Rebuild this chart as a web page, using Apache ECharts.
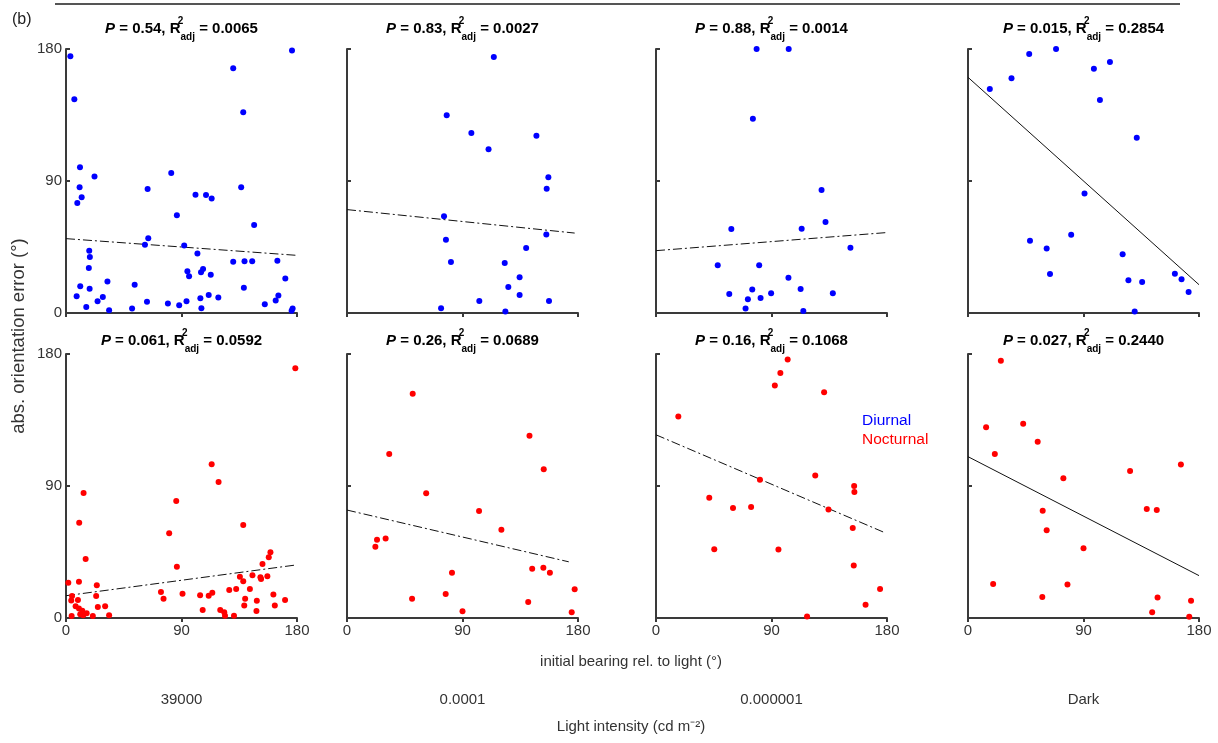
<!DOCTYPE html>
<html>
<head>
<meta charset="utf-8">
<script src="https://cdn.jsdelivr.net/npm/echarts@6/dist/echarts.min.js"></script>
<style>html,body{margin:0;padding:0;background:#fff;}#c{width:1218px;height:743px;}</style>
</head>
<body>
<div id="c"></div>
<script>
// ---------- DATA ----------
const categories = ['39000', '0.0001', '0.000001', 'Dark'];
const tickValues = [0, 90, 180];
const pValues = ['0.54', '0.83', '0.88', '0.015', '0.061', '0.26', '0.16', '0.027'];
const r2Values = ['0.0065', '0.0027', '0.0014', '0.2854', '0.0592', '0.0689', '0.1068', '0.2440'];

// Diurnal (top row) [initial bearing, abs. orientation error]
const diurnal39000 = [[3.4,175],[6.5,145.7],[10.9,99.3],[10.6,85.7],[8.8,75],[12.2,78.9],[22.2,93],[18.1,42.5],[18.6,38.2],[17.8,30.7],[11.1,18.2],[8.3,11.4],[18.4,16.6],[15.8,4.1],[24.6,8],[28.7,10.9],[32.3,21.4],[33.6,1.8],[51.5,3],[53.5,19.3],[63.1,7.7],[61.5,46.6],[64.1,50.9],[63.6,84.5],[82,95.5],[79.4,6.4],[86.4,66.6],[88.2,5.2],[92.1,46.1],[93.9,8],[94.6,28.4],[95.9,25],[102.4,40.5],[100.9,80.7],[105.2,27.7],[106.8,30],[104.7,10],[105.5,3.2],[109.1,80.5],[113.5,78],[111.2,12.3],[112.8,26.1],[118.7,10.5],[130.3,166.8],[136.5,85.7],[138.1,136.8],[130.3,35],[139.1,35.2],[145.1,35.2],[138.6,17.3],[146.6,60],[154.9,5.9],[163.4,8.6],[165.5,12],[164.7,35.7],[170.9,23.6],[176.1,178.9],[176.6,3],[175.8,1.6]];
const diurnal0001 = [[114.4,174.5],[77.7,134.8],[96.9,122.7],[147.6,120.9],[110.3,111.6],[156.9,92.5],[155.6,84.8],[75.6,65.9],[77.1,50],[155.3,53.6],[139.6,44.3],[81,34.8],[122.9,34.1],[134.5,24.3],[125.7,17.7],[134.5,12.3],[103.1,8.2],[157.4,8.2],[73.3,3.2],[123.4,1.1]];
const diurnal000001 = [[78.4,180],[103.4,180],[75.5,132.5],[129,83.9],[132.1,62],[58.7,57.3],[113.5,57.5],[151.5,44.5],[48.1,32.5],[80.4,32.5],[103.2,24.1],[75,16.1],[112.7,16.4],[57.1,13],[71.6,9.3],[81.5,10.2],[89.7,13.4],[137.8,13.4],[69.8,3],[114.8,1.4]];
const diurnalDark = [[17,152.7],[33.9,160],[47.7,176.6],[68.6,180],[98.1,166.6],[110.6,171.1],[102.8,145.2],[131.5,119.5],[90.8,81.4],[80.4,53.4],[48.3,49.3],[61.3,43.9],[63.9,26.6],[120.5,40],[125,22.3],[135.7,21.1],[161.2,26.8],[166.4,23],[171.9,14.3],[129.9,1.1]];

// Nocturnal (bottom row)
const nocturnal39000 = [[178.7,170.2],[113.5,104.8],[118.9,92.7],[85.9,79.8],[13.7,85.2],[10.3,65],[138.1,63.4],[80.4,57.7],[15.3,40.2],[86.4,35],[159.3,44.8],[158,41.4],[153.1,36.8],[145.3,29.1],[135.5,28.2],[138.1,25],[151.5,27.7],[152,26.6],[156.9,28.4],[1.8,24.1],[10.1,24.8],[24,22.3],[23.5,15],[4.7,15],[4.1,12],[9.3,12.3],[7.5,8],[10.1,6.4],[12.7,5],[16.1,3.2],[24.8,7.5],[30.5,8],[4.4,1.4],[11.1,2.5],[13.4,1.8],[20.9,1.4],[33.6,1.8],[74,17.7],[76,13.2],[90.8,16.6],[104.5,15.5],[106.5,5.5],[111.2,15.2],[114,17.3],[120.2,5.5],[123.3,3.9],[123.9,1.6],[127.2,19.1],[130.9,1.6],[132.6,19.8],[139.6,13.2],[138.9,8.6],[143.3,19.8],[148.7,11.8],[148.4,4.8],[161.6,16.1],[162.7,8.6],[170.7,12.3]];
const nocturnal0001 = [[51.2,152.9],[32.9,111.9],[142.2,124.2],[153.3,101.4],[61.7,85],[102.9,72.9],[120.3,60.1],[23.4,53.3],[30.1,54.2],[22.1,48.5],[144.3,33.5],[153,34.2],[158.1,30.8],[81.8,30.8],[50.7,13.2],[76.9,16.4],[90,4.6],[141.2,10.9],[177.4,19.6],[175.1,3.9]];
const nocturnal000001 = [[102.6,176.3],[96.9,167],[92.6,158.6],[131,154],[17.4,137.4],[124.1,97.1],[81,94.3],[154.4,90],[154.6,85.9],[41.5,82],[60,75],[74.1,75.6],[134.4,74],[153.3,61.3],[45.4,46.9],[95.4,46.7],[154.1,35.8],[174.6,19.8],[163.3,9.1],[117.7,1.1]];
const nocturnalDark = [[25.6,175.4],[14.1,130.1],[43,132.4],[54.3,120.1],[20.9,111.9],[165.9,104.6],[126.3,100.2],[74.3,95.2],[58.2,73.1],[139.3,74.3],[147.1,73.6],[61.3,59.9],[90,47.6],[19.6,23.2],[77.5,22.8],[57.9,14.4],[147.7,13.9],[173.8,11.8],[143.5,3.9],[172.4,0.9]];

// Regression lines (start / end points)
const fitDiurnal39000 = [[0,50.7],[180,39.3]];
const fitDiurnal0001 = [[0,70.5],[177.4,54.5]];
const fitDiurnal000001 = [[0,42.5],[179.2,54.8]];
const fitDiurnalDark = [[0,160.7],[180,19.3]];
const fitNocturnal39000 = [[0,15.2],[178.7,36.1]];
const fitNocturnal0001 = [[0,73.6],[172.8,38.3]];
const fitNocturnal000001 = [[0,124.9],[178.5,58.1]];
const fitNocturnalDark = [[0,110],[180,28.9]];

// ---------- LAYOUT ----------
const panels = [diurnal39000, diurnal0001, diurnal000001, diurnalDark, nocturnal39000, nocturnal0001, nocturnal000001, nocturnalDark];
const fits = [fitDiurnal39000, fitDiurnal0001, fitDiurnal000001, fitDiurnalDark, fitNocturnal39000, fitNocturnal0001, fitNocturnal000001, fitNocturnalDark];
const lefts = [66, 347, 656, 968];
const tops = [49, 354];
const W = 231, H = 264;
const solidFit = [false, false, false, true, false, false, false, true];

const grid = [], xAxis = [], yAxis = [], series = [], title = [];
const axisCol = '#3a3a3a';
const FONT = 'Liberation Sans, Arial, sans-serif';
for (let i = 0; i < 8; i++) {
  const row = Math.floor(i / 4), col = i % 4;
  grid.push({left: lefts[col], top: tops[row], width: W, height: H});
  xAxis.push({
    type: 'value', gridIndex: i, min: tickValues[0], max: tickValues[2], interval: tickValues[1],
    axisLine: {show: true, onZero: false, lineStyle: {color: axisCol, width: 2}},
    axisTick: {show: true, inside: false, length: 4, lineStyle: {color: axisCol, width: 2}},
    axisLabel: {show: row === 1, color: '#333', fontSize: 15, fontFamily: FONT, margin: 5},
    splitLine: {show: false}
  });
  yAxis.push({
    type: 'value', gridIndex: i, min: tickValues[0], max: tickValues[2], interval: tickValues[1],
    axisLine: {show: true, onZero: false, lineStyle: {color: axisCol, width: 2}},
    axisTick: {show: true, inside: true, length: 4, lineStyle: {color: axisCol, width: 2}},
    axisLabel: {show: col === 0, color: '#333', fontSize: 15, fontFamily: FONT, margin: 4},
    splitLine: {show: false}
  });
  series.push({
    type: 'scatter', xAxisIndex: i, yAxisIndex: i, data: panels[i],
    symbolSize: 6, itemStyle: {color: row === 0 ? '#0000FF' : '#FF0000', opacity: 1}, silent: true
  });
  series.push({
    type: 'line', xAxisIndex: i, yAxisIndex: i, data: fits[i], symbol: 'none',
    lineStyle: {color: '#111', width: 1, type: solidFit[i] ? 'solid' : [9, 3, 2, 3]}, silent: true, z: 1
  });
  const base = {fontWeight: 'bold', fontSize: 15, fontFamily: FONT, color: '#000', lineHeight: 26};
  title.push({
    text: `{i|P}{b| = ${pValues[i]}, R}{sup|2}{sub|adj}{b| = ${r2Values[i]}}`,
    left: lefts[col] + W / 2, top: row === 0 ? 16 : 328, textAlign: 'center', padding: 0,
    textStyle: {
      rich: {
        i: Object.assign({}, base, {fontStyle: 'italic'}),
        b: base,
        sup: Object.assign({}, base, {fontSize: 10, verticalAlign: 'top', width: 0}),
        sub: Object.assign({}, base, {fontSize: 10, verticalAlign: 'bottom'})
      }
    }
  });
}

const graphic = [
  {type: 'line', shape: {x1: 55, y1: 4, x2: 1180, y2: 4}, style: {stroke: '#555', lineWidth: 2}},
  {type: 'text', x: 12, y: 20, style: {text: '(b)', fontSize: 16, fontFamily: FONT, fill: '#222', verticalAlign: 'middle'}},
  {type: 'text', x: 19, y: 336, rotation: Math.PI / 2, style: {text: 'abs. orientation error (°)', fontSize: 18.5, fontFamily: FONT, fill: '#333', align: 'center', verticalAlign: 'middle'}},
  {type: 'text', x: 631, y: 662, style: {text: 'initial bearing rel. to light (°)', fontSize: 15, fontFamily: FONT, fill: '#333', align: 'center', verticalAlign: 'middle'}},
  {type: 'text', x: 631, y: 727, style: {text: 'Light intensity (cd m⁻²)', fontSize: 15, fontFamily: FONT, fill: '#333', align: 'center', verticalAlign: 'middle'}},
  {type: 'text', x: 862, y: 421, style: {text: 'Diurnal', fontSize: 15.5, fontFamily: FONT, fill: '#0000FF', verticalAlign: 'middle'}},
  {type: 'text', x: 862, y: 440, style: {text: 'Nocturnal', fontSize: 15.5, fontFamily: FONT, fill: '#FF0000', verticalAlign: 'middle'}}
];
categories.forEach((c, k) => {
  graphic.push({type: 'text', x: lefts[k] + W / 2, y: 700, style: {text: c, fontSize: 15, fontFamily: FONT, fill: '#333', align: 'center', verticalAlign: 'middle'}});
});

const chart = echarts.init(document.getElementById('c'), null, {renderer: 'canvas'});
chart.setOption({animation: false, backgroundColor: '#fff', title, grid, xAxis, yAxis, series, graphic});
</script>
</body>
</html>
